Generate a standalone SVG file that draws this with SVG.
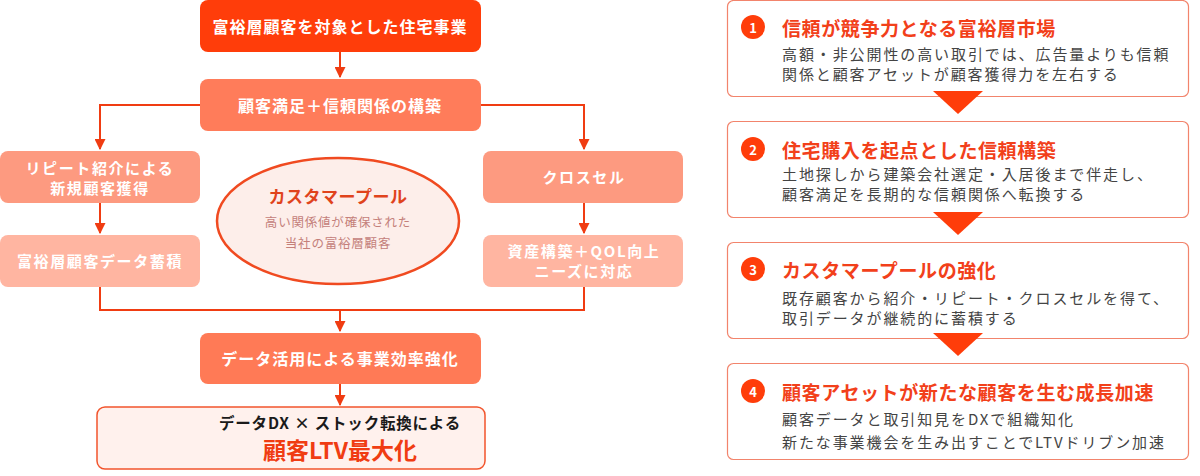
<svg xmlns="http://www.w3.org/2000/svg" width="1200" height="476" viewBox="0 0 1200 476">
<defs>
<marker id="ah" viewBox="0 0 10 10" refX="9" refY="5" markerWidth="5.5" markerHeight="5.5" orient="auto" markerUnits="strokeWidth">
<path d="M0,0 L10,5 L0,10 Z" fill="#f03c12"/>
</marker>
<style>
text{font-family:"Noto Sans CJK JP","Noto Sans",sans-serif;}
.wt{fill:#ffffff;font-weight:700;font-size:15px;letter-spacing:1.6px;text-anchor:middle;dominant-baseline:central;}
.wtl{fill:#ffffff;font-weight:700;font-size:16px;letter-spacing:1px;text-anchor:middle;dominant-baseline:central;}
.conn{stroke:#f03c12;stroke-width:2;fill:none;}
.card{fill:#ffffff;stroke:#f2846c;stroke-width:1.2;}
.ttl{fill:#f2401a;font-weight:700;font-size:19px;letter-spacing:0.6px;dominant-baseline:central;}
.body{fill:#444444;font-size:15px;letter-spacing:1.9px;dominant-baseline:central;}
.num{fill:#ff3d0a;}
.numt{fill:#ffffff;font-weight:700;font-size:13px;text-anchor:middle;dominant-baseline:central;}
.tri{fill:#ff3d0a;}
</style>
</defs>
<rect width="1200" height="476" fill="#ffffff"/>

<g id="connectors">
<path class="conn" d="M340,52 V77" marker-end="url(#ah)"/>
<path class="conn" d="M200,105 H100 V149" marker-end="url(#ah)"/>
<path class="conn" d="M480,105 H584 V149" marker-end="url(#ah)"/>
<path class="conn" d="M100,203 V233" marker-end="url(#ah)"/>
<path class="conn" d="M584,203 V233" marker-end="url(#ah)"/>
<path class="conn" d="M100,287 V310 H584 V287"/>
<path class="conn" d="M340,310 V331" marker-end="url(#ah)"/>
<path class="conn" d="M340,384 V405" marker-end="url(#ah)"/>
</g>

<g id="n-top">
<rect x="200" y="0" width="281" height="52" rx="8" fill="#ff3d0a"/>
<text class="wtl" x="340" y="26">富裕層顧客を対象とした住宅事業</text>
</g>
<g id="n-trust">
<rect x="200" y="79" width="281" height="52" rx="8" fill="#ff7c5a"/>
<text class="wtl" x="340" y="105">顧客満足＋信頼関係の構築</text>
</g>
<g id="n-repeat">
<rect x="0" y="151" width="200" height="52" rx="8" fill="#fd9a80"/>
<text class="wt" x="100" y="167">リピート紹介による</text>
<text class="wt" x="100" y="187">新規顧客獲得</text>
</g>
<g id="n-data">
<rect x="0" y="235" width="200" height="52" rx="8" fill="#ffb5a1"/>
<text class="wt" x="100" y="260">富裕層顧客データ蓄積</text>
</g>
<g id="n-cross">
<rect x="483" y="151" width="200" height="52" rx="8" fill="#fd9a80"/>
<text class="wt" x="584" y="176">クロスセル</text>
</g>
<g id="n-asset">
<rect x="483" y="235" width="200" height="52" rx="8" fill="#ffb5a1"/>
<text class="wt" x="584" y="250" letter-spacing="0.6">資産構築＋QOL向上</text>
<text class="wt" x="584" y="270">ニーズに対応</text>
</g>
<g id="n-pool">
<ellipse cx="338" cy="221" rx="121" ry="63" fill="#fdeeea" stroke="#f04a20" stroke-width="2.5"/>
<text x="338" y="195" fill="#e0431c" font-weight="700" font-size="17" letter-spacing="0.5" text-anchor="middle" dominant-baseline="central">カスタマープール</text>
<text x="338" y="221" fill="#c4807a" font-size="12.5" letter-spacing="0.8" text-anchor="middle" dominant-baseline="central">高い関係値が確保された</text>
<text x="338" y="242" fill="#c4807a" font-size="12.5" letter-spacing="0.8" text-anchor="middle" dominant-baseline="central">当社の富裕層顧客</text>
</g>
<g id="n-dx">
<rect x="200" y="333" width="281" height="51" rx="8" fill="#ff7a56"/>
<text class="wtl" x="340" y="358">データ活用による事業効率強化</text>
</g>
<g id="n-ltv">
<rect x="97" y="407" width="388" height="62" rx="8" fill="#fff1ed" stroke="#f2542c" stroke-width="1.5"/>
<text x="340" y="422" fill="#1a1a1a" font-weight="700" font-size="15.5" letter-spacing="0.8" text-anchor="middle" dominant-baseline="central">データDX × ストック転換による</text>
<text x="340" y="449" fill="#f03c12" font-weight="700" font-size="23" text-anchor="middle" dominant-baseline="central">顧客LTV最大化</text>
</g>

<g id="s1">
<rect class="card" x="727.5" y="0.5" width="461" height="96" rx="6"/>
<circle class="num" cx="753" cy="27" r="12"/>
<text class="numt" x="753" y="27">1</text>
<text class="ttl" x="782" y="27">信頼が競争力となる富裕層市場</text>
<text class="body" x="782" y="53">高額・非公開性の高い取引では、広告量よりも信頼</text>
<text class="body" x="782" y="73">関係と顧客アセットが顧客獲得力を左右する</text>
</g>
<g id="s2">
<rect class="card" x="727.5" y="121.5" width="461" height="96" rx="6"/>
<circle class="num" cx="753" cy="149" r="12"/>
<text class="numt" x="753" y="149">2</text>
<text class="ttl" x="782" y="149">住宅購入を起点とした信頼構築</text>
<text class="body" x="782" y="173">土地探しから建築会社選定・入居後まで伴走し、</text>
<text class="body" x="782" y="193">顧客満足を長期的な信頼関係へ転換する</text>
</g>
<g id="s3">
<rect class="card" x="727.5" y="242.5" width="461" height="96" rx="6"/>
<circle class="num" cx="753" cy="269" r="12"/>
<text class="numt" x="753" y="269">3</text>
<text class="ttl" x="782" y="269">カスタマープールの強化</text>
<text class="body" x="782" y="297">既存顧客から紹介・リピート・クロスセルを得て、</text>
<text class="body" x="782" y="317">取引データが継続的に蓄積する</text>
</g>
<g id="s4">
<rect class="card" x="727.5" y="363.5" width="461" height="96" rx="6"/>
<circle class="num" cx="753" cy="391" r="12"/>
<text class="numt" x="753" y="391">4</text>
<text class="ttl" x="782" y="391">顧客アセットが新たな顧客を生む成長加速</text>
<text class="body" x="782" y="418">顧客データと取引知見をDXで組織知化</text>
<text class="body" x="782" y="441">新たな事業機会を生み出すことでLTVドリブン加速</text>
</g>
<g id="tris">
<path class="tri" d="M933,91 H983 L958,114 Z"/>
<path class="tri" d="M933,212 H983 L958,235 Z"/>
<path class="tri" d="M933,333 H983 L958,356 Z"/>
</g>
</svg>
